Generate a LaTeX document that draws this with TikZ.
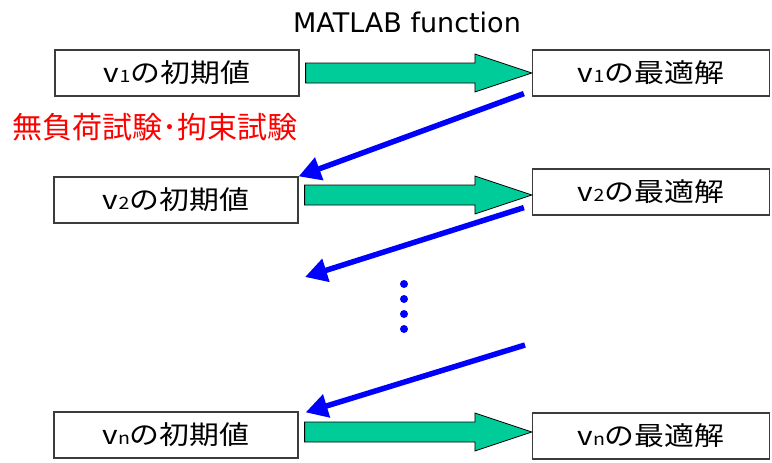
\documentclass[tikz,border=0pt]{standalone}
\usepackage{fontspec}
\usetikzlibrary{arrows.meta,calc}
\newfontfamily\jpfont[FakeStretch=1.15]{Noto Sans CJK JP}
\newfontfamily\jpredfont{Noto Sans CJK JP}
\newfontfamily\matlabfont{DejaVu Sans}
\definecolor{arrowgreen}{RGB}{0,204,153}
\definecolor{boxgray}{RGB}{60,60,60}
\newcommand{\vsub}[1]{v{\fontsize{17}{17}\selectfont #1}}
\newcommand{\fatarrow}[2]{%
\draw[fat arrow] let \p1=(#1), \p2=(#2) in
(\x1,\y2+10pt) -- (\x2-57pt,\y2+10pt) -- (\x2-57pt,\y2+19pt) -- (\p2)
-- (\x2-57pt,\y2-19pt) -- (\x2-57pt,\y2-10pt) -- (\x1,\y2-10pt) -- cycle;}

\begin{document}
\begin{tikzpicture}[x=1pt,y=-1pt]
% Styles for the boxes, the fat arrows and the back arrows
\tikzset{
value box/.style={draw=boxgray,line width=1.2pt,minimum width=244pt,minimum height=46pt,inner sep=0pt,font=\jpfont\fontsize{26}{26}\selectfont},
result box/.style={value box,minimum width=237pt},
fat arrow/.style={draw=black,line width=0.8pt,fill=arrowgreen},
back arrow/.style={draw=blue,line width=5.5pt,-{Triangle[length=22pt,width=23pt]}},
dot/.style={circle,fill=blue,inner sep=0pt,minimum size=8pt}
}
\useasboundingbox (0,0) rectangle (772,463);

% Titles
\node(title) at (407,22) {\matlabfont\fontsize{27}{27}\selectfont MATLAB function};
\node(test)[anchor=west,text=red] at (9,127) {\jpredfont\fontsize{30}{30}\selectfont 無負荷試験･拘束試験};

% Initial values and optimal solutions
\node(l1)[value box] at (177,73) {\vsub{1}の初期値};
\node(l2)[value box] at (176,200) {\vsub{2}の初期値};
\node(l3)[value box] at (176,435) {\vsub{n}の初期値};
\node(r1)[result box] at (651,73) {\vsub{1}の最適解};
\node(r2)[result box] at (651,192) {\vsub{2}の最適解};
\node(r3)[result box] at (651,436) {\vsub{n}の最適解};

% Fat arrows
\fatarrow{$(l1.east)+(6,0)$}{r1.west}
\fatarrow{$(l2.east)+(6,0)$}{$(r2.west)+(0,3)$}
\fatarrow{$(l3.east)+(6,0)$}{$(r3.west)+(0,-4)$}

% Back arrows
\coordinate(s1) at ($(r1.south west)+(-8,-3)$);
\coordinate(s2) at ($(r2.south west)+(-8,-8)$);
\coordinate(e2) at (305,277);
\coordinate(s3) at (525,345);
\coordinate(e3) at ($(l3.north east)+(7,1)$);
\draw[back arrow] (s1) -- (l2.north east);
\draw[back arrow] (s2) -- (e2);
\draw[back arrow] (s3) -- (e3);

% Dots
\foreach \y in {284,299,314,329}
\node(d\y)[dot] at (404,\y) {};

\end{tikzpicture}
\end{document}
